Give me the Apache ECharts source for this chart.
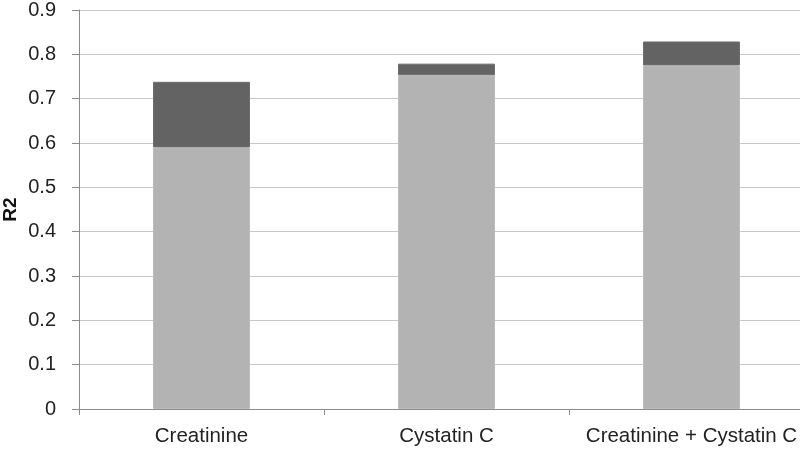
<!DOCTYPE html>
<html><head><meta charset="utf-8">
<script src="https://cdn.jsdelivr.net/npm/echarts@6/dist/echarts.min.js"></script>
<style>html,body{margin:0;padding:0;background:#fff}#c{width:800px;height:450px}</style>
</head><body><div id="c"></div>
<script>
var categories = ['Creatinine', 'Cystatin C', 'Creatinine + Cystatin C'];
var baseValues = [0.59, 0.753, 0.775];
var addedValues = [0.148, 0.026, 0.054];
var yTicks = [0, 0.9, 0.1];
var FONT = '"Liberation Sans", sans-serif';
var chart = echarts.init(document.getElementById('c'));
chart.setOption({
  animation: false,
  grid: {left: 79, top: 10, width: 735, height: 399, containLabel: false, outerBoundsMode: 'none'},
  xAxis: {
    type: 'category', data: categories,
    axisLine: {lineStyle: {color: '#8c8c8c', width: 1}},
    axisTick: {show: true, length: 6, lineStyle: {color: '#8c8c8c'}},
    axisLabel: {interval: 0, color: '#222', fontFamily: FONT, fontSize: 20.5, margin: 17}
  },
  yAxis: {
    type: 'value', min: yTicks[0], max: yTicks[1], interval: yTicks[2],
    name: 'R2', nameLocation: 'middle', nameGap: 68, nameRotate: 90,
    nameTextStyle: {fontFamily: FONT, fontSize: 19, fontWeight: 'bold', color: '#111',
      align: 'center', verticalAlign: 'middle'},
    nameMoveOverlap: false,
    axisLine: {show: true, lineStyle: {color: '#8c8c8c'}},
    axisTick: {show: true, length: 7, lineStyle: {color: '#8c8c8c'}},
    axisLabel: {color: '#222', fontFamily: FONT, fontSize: 20, margin: 23,
      formatter: function (v) { return String(Math.round(v * 10) / 10); }},
    splitLine: {lineStyle: {color: '#c8c8c8'}}
  },
  series: [
    {type: 'bar', stack: 's', data: baseValues, barWidth: 97,
     itemStyle: {color: '#b3b3b3', borderColor: '#bcbcbc', borderWidth: 1}},
    {type: 'bar', stack: 's', data: addedValues, barWidth: 97,
     itemStyle: {color: '#636363', borderColor: '#6e6e6e', borderWidth: 1}}
  ]
});
</script></body></html>
